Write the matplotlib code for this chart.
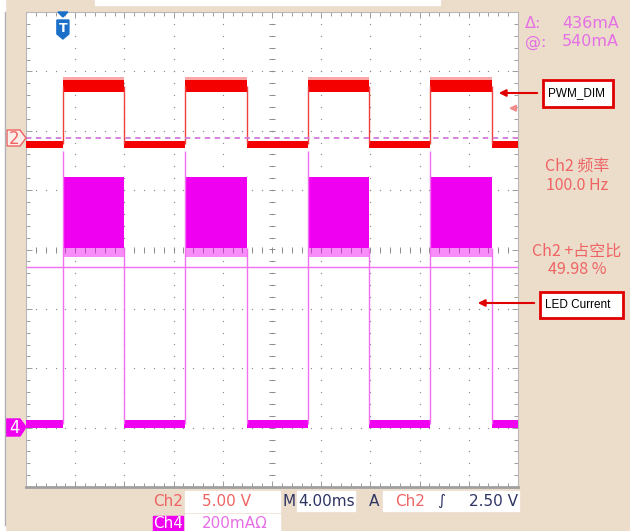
import matplotlib
matplotlib.use("Agg")
import matplotlib.pyplot as plt
from matplotlib.patches import Rectangle, Polygon
from matplotlib.ticker import MultipleLocator
import numpy as np

plt.rcParams['font.family'] = ['DejaVu Sans', 'Noto Sans CJK SC']

# scope settings
ch2_volts_per_div = 5.0
ch4_ma_per_div = 200.0
ms_per_div = 4.0
ch2_offset_div = 1.88
ch4_offset_div = -3.0
screen_ms = 40.0

# PWM_DIM edges, ms from left edge of screen
rise_ms = [3.0, 12.95, 22.9, 32.85]
fall_ms = [8.0, 17.95, 27.9, 37.85]

# Ch2 (PWM_DIM) noise bands in V
ch2_low_band = [-0.85, -0.25]
ch2_high_band = [3.9, 4.85]
ch2_high_spike = 5.1
# Ch4 (LED current) bands in mA
ch4_low_band = [0, 25]
ch4_high_band = [605, 845]
ch4_high_spike = 575
ch4_edge_peak = 933

# cursors / trigger
cursor_at_ma = 540
cursor_delta_ma = 436
trigger_level_v = 2.5

# readouts
meas_labels = ["Ch2 频率", "100.0 Hz", "Ch2 +占空比", "49.98 %"]

RED = '#F50000'
MAG = '#F000F0'
MAG_EDGE = '#F070F0'
SALMON = '#EE6464'
MAG_TXT = '#E570E5'
NAVY = '#2E3565'
TAN = '#ECDCCA'
GRID = '#8C8C8C'


def v2d(v):
    return ch2_offset_div + v / ch2_volts_per_div


def i2d(ma):
    return ch4_offset_div + ma / ch4_ma_per_div


fig = plt.figure(figsize=(6.3, 5.31), dpi=100, facecolor=TAN)
ax = fig.add_axes([26 / 630, (531 - 487) / 531, 492 / 630, 475 / 531])
ax.set_facecolor('white')
ax.set_xlim(0, screen_ms)
ax.set_ylim(-4, 4)

# graticule
ax.xaxis.set_major_locator(MultipleLocator(ms_per_div))
ax.yaxis.set_major_locator(MultipleLocator(1))
ax.xaxis.set_minor_locator(MultipleLocator(ms_per_div / 5))
ax.yaxis.set_minor_locator(MultipleLocator(0.2))
ax.tick_params(which='both', direction='in', top=True, right=True,
               labelbottom=False, labelleft=False, color=GRID, width=0.6)
ax.tick_params(which='major', length=4)
ax.tick_params(which='minor', length=3)
for s in ax.spines.values():
    s.set_color('#B8B8B8')
    s.set_linewidth(0.8)
ax.spines['bottom'].set_color('#A0A0A0')
ax.spines['bottom'].set_linewidth(2)

ydots = np.arange(-4, 4.01, 0.2)
xdots = np.arange(0, screen_ms + 0.01, ms_per_div / 5)
for xi in np.arange(ms_per_div, screen_ms, ms_per_div):
    ax.scatter(np.full_like(ydots, xi), ydots, s=0.9, color=GRID, lw=0, zorder=1)
for yj in np.arange(-3, 4, 1):
    ax.scatter(xdots, np.full_like(xdots, yj), s=0.9, color=GRID, lw=0, zorder=1)
ax.plot(np.full_like(ydots, screen_ms / 2), ydots, ls='none', marker='_',
        ms=4, mew=0.7, color=GRID, zorder=1)
ax.plot(xdots, np.zeros_like(xdots), ls='none', marker='|',
        ms=4, mew=0.7, color=GRID, zorder=1)

# traces
edges = [0.0] + sorted(rise_ms + fall_ms) + [screen_ms]
for k, (t0, t1) in enumerate(zip(edges[:-1], edges[1:])):
    high = k % 2 == 1
    if high:
        ax.fill_between([t0, t1], v2d(ch2_high_band[1]), v2d(ch2_high_spike),
                        color=RED, alpha=0.35, lw=0, zorder=4)
        ax.fill_between([t0, t1], v2d(ch2_high_band[0]), v2d(ch2_high_band[1]),
                        color=RED, lw=0, zorder=4)
        ax.fill_between([t0, t1], i2d(ch4_high_spike), i2d(ch4_high_band[0]),
                        color=MAG, alpha=0.45, lw=0, zorder=3)
        ax.fill_between([t0, t1], i2d(ch4_high_band[0]), i2d(ch4_high_band[1]),
                        color=MAG, lw=0, zorder=3)
    else:
        ax.fill_between([t0, t1], v2d(ch2_low_band[0]), v2d(ch2_low_band[1]),
                        color=RED, lw=0, zorder=4)
        ax.fill_between([t0, t1], i2d(ch4_low_band[0]), i2d(ch4_low_band[1]),
                        color=MAG, lw=0, zorder=3)

ch2_low_mid = sum(ch2_low_band) / 2
ch2_high_mid = sum(ch2_high_band) / 2
ch4_low_mid = sum(ch4_low_band) / 2
ax.vlines(rise_ms + fall_ms, v2d(ch2_low_mid), v2d(ch2_high_mid),
          color='#F04040', lw=1, zorder=4)
ax.vlines(rise_ms, i2d(ch4_low_mid), i2d(ch4_edge_peak), color=MAG_EDGE, lw=1, zorder=3)
ax.vlines(fall_ms, i2d(ch4_low_mid), i2d(ch4_high_band[0]), color=MAG_EDGE, lw=1, zorder=3)

# cursors
ax.axhline(i2d(cursor_at_ma), color=MAG_EDGE, lw=1, zorder=2)
ax.axhline(i2d(cursor_at_ma + cursor_delta_ma), color='#D27ADC', lw=1.3,
           ls=(0, (3, 2.5)), zorder=5)

# overlay in pixel coordinates
ov = fig.add_axes([0, 0, 1, 1], zorder=10)
ov.set_xlim(0, 630)
ov.set_ylim(531, 0)
ov.axis('off')
ov.patch.set_alpha(0)

ov.add_patch(Rectangle((0, 0), 5, 531, color='white'))
ov.plot([5, 5], [12, 525], color='#B0B0B0', lw=1)
ov.add_patch(Rectangle((95, 0), 345, 5, color='white'))

# channel markers
ov.add_patch(Polygon([[7, 130], [20, 130], [26, 138], [20, 146], [7, 146]],
                     closed=True, fc='#FBEDE8', ec=SALMON, lw=1))
ov.text(14, 138.5, "2", color=SALMON, fontsize=12, ha='center', va='center')
ov.add_patch(Polygon([[6, 419], [20, 419], [26, 427], [20, 436], [6, 436]],
                     closed=True, fc=MAG, ec=MAG, lw=1))
ov.text(14, 428, "4", color='white', fontsize=12, ha='center', va='center')

# trigger position marker
trig_x = 26 + rise_ms[0] / screen_ms * 492
ov.add_patch(Polygon([[trig_x - 5, 12], [trig_x + 5, 12], [trig_x, 17]],
                     closed=True, color='#1A6FC8'))
ov.add_patch(Polygon([[trig_x - 6, 20], [trig_x + 6, 20], [trig_x + 6, 34],
                      [trig_x, 39], [trig_x - 6, 34]], closed=True, color='#1A6FC8'))
ov.text(trig_x, 29, "T", color='white', fontsize=9, fontweight='bold',
        ha='center', va='center')

# trigger level arrow
trig_y = 487 - (v2d(trigger_level_v) + 4) / 8 * 475
ov.annotate('', xy=(506, trig_y), xytext=(517, trig_y),
            arrowprops=dict(arrowstyle='-|>', color='#F08C8C', lw=1.5,
                            mutation_scale=9))

# cursor readout
ov.text(525, 23, "Δ:", color=MAG_TXT, fontsize=11.5, va='center')
ov.text(619, 23, f"{cursor_delta_ma}mA", color=MAG_TXT, fontsize=11.5, va='center', ha='right')
ov.text(525, 42, "@:", color=MAG_TXT, fontsize=11.5, va='center')
ov.text(619, 42, f"{cursor_at_ma}mA", color=MAG_TXT, fontsize=11.5, va='center', ha='right')

# measurements
for label, yy in zip(meas_labels, [166, 185, 251, 270]):
    ov.text(577, yy, label, color=SALMON, fontsize=11.5, ha='center', va='center',
            family=['Noto Sans CJK SC', 'DejaVu Sans'])

# callouts
def callout(text, box, tip_x, y):
    x0, y0, x1, y1 = box
    ov.add_patch(Rectangle((x0, y0), x1 - x0, y1 - y0, fc='white', ec='#E00000', lw=2))
    ov.text(x0 + 5, (y0 + y1) / 2, text, fontsize=8.5, family='Liberation Sans',
            va='center', color='black')
    ov.annotate('', xy=(tip_x, y), xytext=(x0 - 3, y),
                arrowprops=dict(arrowstyle='-|>', color='#E00000', lw=1.5,
                                mutation_scale=10))

callout("PWM_DIM", (543, 80, 613, 107), 496, 93)
callout("LED Current", (540, 292, 623, 318), 475, 303)

# bottom status bar
fs = 11
ov.text(153, 501, "Ch2", color=SALMON, fontsize=fs, va='center')
ov.add_patch(Rectangle((185, 491), 95, 21, color='white'))
ov.text(202, 501, f"{ch2_volts_per_div:.2f} V", color=SALMON, fontsize=fs, va='center')
ov.text(283, 501, "M", color=NAVY, fontsize=fs, va='center')
ov.add_patch(Rectangle((297, 491), 58, 20, color='white'))
ov.text(298, 501, f"{ms_per_div:.2f}ms", color=NAVY, fontsize=fs, va='center')
ov.text(369, 501, "A", color=NAVY, fontsize=fs, va='center')
ov.add_patch(Rectangle((383, 491), 136, 20, color='white'))
ov.text(395, 501, "Ch2", color=SALMON, fontsize=fs, va='center')
ov.text(437, 501, "∫", color=NAVY, fontsize=fs, va='center', style='italic')
ov.text(518, 501, f"{trigger_level_v:.2f} V", color=NAVY, fontsize=fs, va='center', ha='right')

ov.add_patch(Rectangle((153, 516), 30, 15, color=MAG))
ov.text(168, 524, "Ch4", color='white', fontsize=fs, va='center', ha='center')
ov.add_patch(Rectangle((185, 514), 95, 17, color='white'))
ov.text(202, 524, f"{ch4_ma_per_div:.0f}mAΩ", color=MAG_TXT, fontsize=fs, va='center')

fig.savefig("out.png", dpi=100, facecolor=TAN)
